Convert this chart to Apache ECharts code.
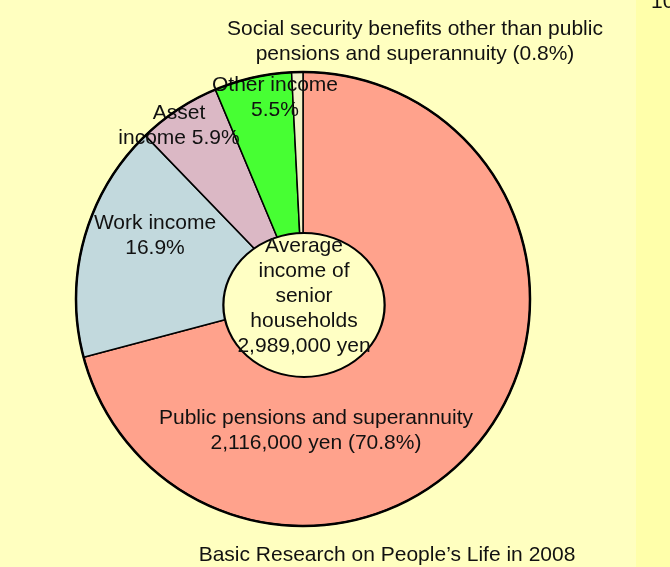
<!DOCTYPE html>
<html>
<head>
<meta charset="utf-8">
<script src="https://cdn.jsdelivr.net/npm/echarts@6/dist/echarts.min.js"></script>
<style>
  html, body { margin: 0; padding: 0; background: #FFFFC0; }
  #chart { width: 670px; height: 567px; }
</style>
</head>
<body>
<div id="chart"></div>
<script>
// Income sources of senior households (share of total, %)
const categories = [
  'Public pensions and superannuity',
  'Work income',
  'Asset income',
  'Other income',
  'Social security benefits other than public pensions and superannuity'
];
const shares = [70.8, 16.9, 5.9, 5.5, 0.8];
const pensionAmount = '2,116,000';
const totalAmount = '2,989,000';
const sourceNote = 'Basic Research on People\u2019s Life in 2008';

const sliceColors = ['#FFA28C', '#C2D9DD', '#DBB8C5', '#47FF33', '#F2F2C8'];

// Label text for each slice, with its line breaks
const sliceLabels = [
  'Public pensions and superannuity\n' + pensionAmount + ' yen (' + shares[0] + '%)',
  'Work income\n' + shares[1] + '%',
  'Asset\nincome ' + shares[2] + '%',
  'Other income\n' + shares[3] + '%',
  'Social security benefits other than public\npensions and superannuity (' + shares[4] + '%)'
];
// Where each label sits
const labelSpots = [
  [316, 431], [155, 236], [179, 126], [275, 98], [415, 42]
];

const FONT = 'Liberation Sans, Arial, sans-serif';
const FS = 21;
const chart = echarts.init(document.getElementById('chart'), null, { renderer: 'canvas' });

chart.setOption({
  backgroundColor: '#FFFFC0',
  animation: false,
  series: [{
    type: 'pie',
    center: [303, 299],
    radius: [0, 227],
    startAngle: 90,
    clockwise: true,
    avoidLabelOverlap: false,
    data: categories.map((c, i) => ({
      name: c,
      value: shares[i],
      itemStyle: { color: sliceColors[i] }
    })),
    itemStyle: { borderColor: '#000', borderWidth: 1.5 },
    label: {
      show: true,
      position: 'inside',
      formatter: p => sliceLabels[p.dataIndex],
      fontFamily: FONT,
      fontSize: FS,
      color: '#111',
      lineHeight: 25,
      align: 'center'
    },
    labelLine: { show: false },
    labelLayout: p => ({
      x: labelSpots[p.dataIndex][0],
      y: labelSpots[p.dataIndex][1],
      align: 'center',
      verticalAlign: 'middle'
    }),
    emphasis: { disabled: true }
  }],
  graphic: [
    {
      type: 'rect', z: -1,
      shape: { x: 636, y: 0, width: 34, height: 567 },
      style: { fill: '#FFFFAA' }
    },
    {
      type: 'text', x: 651, y: -8,
      style: { text: '10', font: FS + 'px ' + FONT, fill: '#111' }
    },
    // heavier outline round the outer edge
    {
      type: 'circle', z: 10,
      shape: { cx: 303, cy: 299, r: 227 },
      style: { fill: null, stroke: '#000', lineWidth: 2.5 }
    },
    // centre disc with the total
    {
      type: 'circle', z: 10,
      x: 304, y: 305, scaleX: 1.12, scaleY: 1,
      shape: { cx: 0, cy: 0, r: 72 },
      style: { fill: '#FFFFC4', stroke: '#000', lineWidth: 2 }
    },
    {
      type: 'text', z: 11, x: 304, y: 296,
      style: {
        text: 'Average\nincome of\nsenior\nhouseholds\n' + totalAmount + ' yen',
        font: FS + 'px ' + FONT, fill: '#111', lineHeight: 25,
        align: 'center', verticalAlign: 'middle'
      }
    },
    {
      type: 'text', x: 387, y: 555,
      style: {
        text: sourceNote, font: FS + 'px ' + FONT, fill: '#111',
        align: 'center', verticalAlign: 'middle'
      }
    }
  ]
});
</script>
</body>
</html>
